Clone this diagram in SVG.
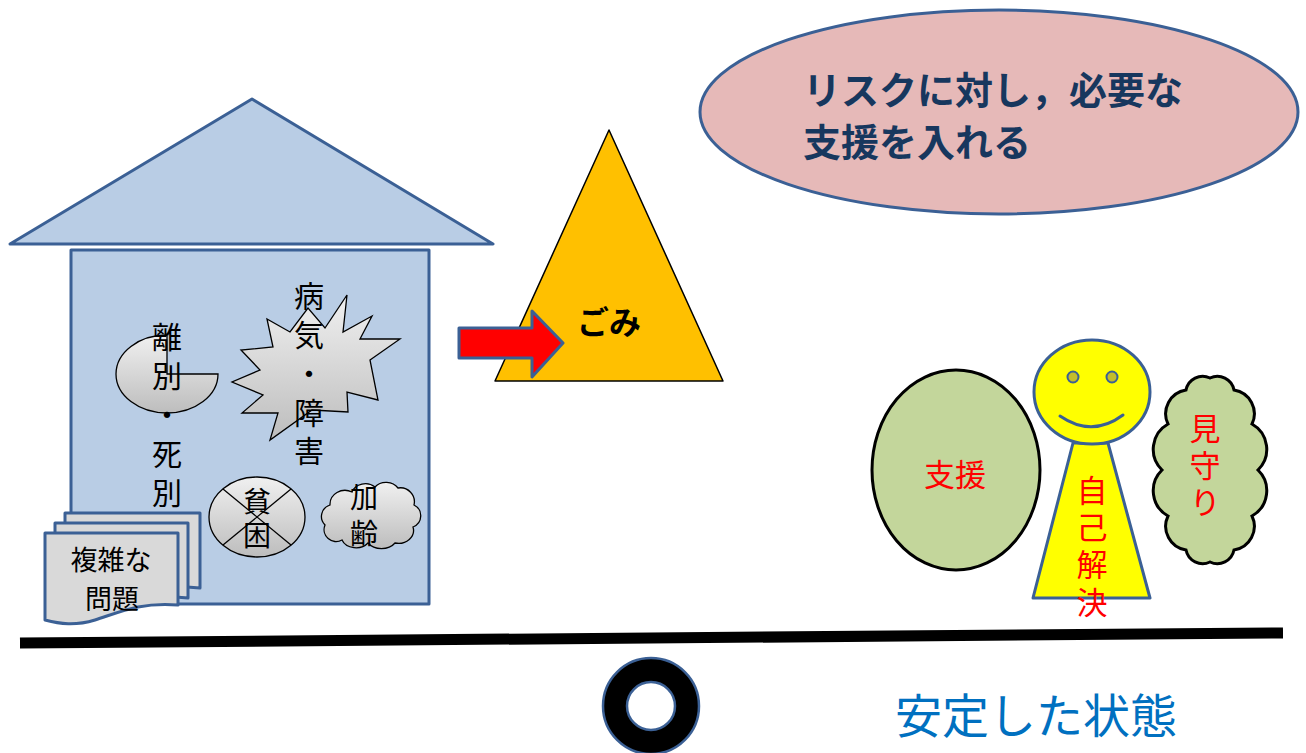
<svg xmlns="http://www.w3.org/2000/svg" width="1306" height="753" viewBox="0 0 1306 753">
  <defs>
    <linearGradient id="greyFill" x1="0" y1="0" x2="0" y2="1">
      <stop offset="0" stop-color="#f0f0f0"/>
      <stop offset="1" stop-color="#bdbdbd"/>
    </linearGradient>
    <style>
      .t { font-family: "Noto Sans CJK JP", "Noto Sans CJK SC", sans-serif; text-anchor: middle; dominant-baseline: central; }
      .v { font-family: "Noto Sans CJK JP", "Noto Sans CJK SC", sans-serif; writing-mode: vertical-rl; text-anchor: start; }
      .blk { fill: #000; font-size: 30px; }
      .sm { font-size: 28px; }
      .doc { font-size: 27px; }
      .red { fill: #ff0000; font-size: 31px; }
      .blueEdge { stroke: #3b6095; stroke-width: 3; stroke-linejoin: round; }
      .houseFill { fill: #b9cde5; }
      .grey { fill: url(#greyFill); stroke: #000; stroke-width: 1.3; }
      .green { fill: #c3d69b; stroke: #000; stroke-width: 3; }
      .yellow { fill: #ffff00; }
    </style>
  </defs>

  <!-- ground line -->
  <g id="ground">
    <line x1="20" y1="643" x2="1283" y2="633" stroke="#000" stroke-width="11"/>
  </g>

  <!-- house -->
  <g id="house">
    <polygon class="houseFill blueEdge" points="10,244 252,99 493,244"/>
    <rect class="houseFill blueEdge" x="71" y="250" width="358" height="354"/>
  </g>

  <!-- separation / bereavement (pie) -->
  <g id="node-rikoshibetsu">
    <path class="grey" d="M167,374 L218,374 A51,39 0 1,1 167,335 Z"/>
    <text class="v blk" x="167" y="322" letter-spacing="9">離別・死別</text>
  </g>

  <!-- illness / disability (explosion) -->
  <g id="node-byoki">
    <polygon class="grey" points="347,295 343,332 372,316 360,339 400,339 370,360 378,400 347,392 348,412 312,410 270,440 278,413 242,413 263,395 232,382 260,370 241,350 273,347 267,319 290,332 308,308 325,328"/>
    <text class="v blk" x="309" y="281" letter-spacing="8.75">病気・障害</text>
  </g>

  <!-- poverty (summing junction) -->
  <g id="node-hinkon">
    <ellipse class="grey" cx="257" cy="517" rx="48" ry="40"/>
    <line x1="223" y1="489" x2="291" y2="545" stroke="#000" stroke-width="1.3"/>
    <line x1="291" y1="489" x2="223" y2="545" stroke="#000" stroke-width="1.3"/>
    <text class="v blk sm" x="257" y="487" letter-spacing="6">貧困</text>
  </g>

  <!-- ageing (cloud) -->
  <g id="node-karei">
    <path class="grey" d="M325,525 A12,12 0 0 1 330,505 A15,14 0 0 1 352,492 A14,12 0 0 1 375,487 A14,12 0 0 1 398,488 A14,14 0 0 1 414,505 A12,12 0 0 1 413,527 A15,13 0 0 1 395,543 A16,12 0 0 1 368,543 A15,12 0 0 1 342,540 A12,12 0 0 1 325,525 Z"/>
    <text class="v blk sm" x="364" y="483" letter-spacing="8">加齢</text>
  </g>

  <!-- complex problems (stacked documents) -->
  <g id="node-fukuzatsu">
    <path class="blueEdge" fill="#d9d9d9" d="M65,513 H200 V588 Q160,584 130,592 L65,600 Z"/>
    <path class="blueEdge" fill="#d9d9d9" d="M55,523 H188 V598 Q150,594 120,602 L55,610 Z"/>
    <path class="blueEdge" fill="#d9d9d9" d="M45,533 H178 V605 C140,602 120,612 95,620 C75,626 60,624 45,620 Z"/>
    <text class="t blk doc"><tspan x="111" y="558">複雑な</tspan><tspan x="112" y="597">問題</tspan></text>
  </g>

  <!-- garbage (triangle) -->
  <g id="node-gomi">
    <polygon points="609,130 723,381 495,381" fill="#ffc000" stroke="#000" stroke-width="1.5" stroke-linejoin="round"/>
    <text class="t" x="609" y="320" font-size="32" font-weight="bold" fill="#000">ごみ</text>
  </g>

  <!-- block arrow from the house to the garbage -->
  <g id="connectors">
    <polygon class="blueEdge" fill="#ff0000" points="459,328 532,328 532,311 563,343 532,377 532,358 459,358"/>
  </g>

  <!-- callout ellipse -->
  <g id="node-risk">
    <ellipse cx="999" cy="112" rx="299" ry="102" fill="#e6b9b8" stroke="#3b6095" stroke-width="3"/>
    <text x="803" y="104" font-family="Noto Sans CJK JP, sans-serif" font-size="38" font-weight="bold" fill="#17375e">リスクに対し，必要な</text>
    <text x="803" y="156" font-family="Noto Sans CJK JP, sans-serif" font-size="38" font-weight="bold" fill="#17375e">支援を入れる</text>
  </g>

  <!-- support -->
  <g id="node-shien">
    <ellipse class="green" cx="956" cy="470" rx="84" ry="100"/>
    <text class="t red" x="955" y="472">支援</text>
  </g>

  <!-- self-resolution figure -->
  <g id="node-jiko">
    <polygon class="yellow blueEdge" points="1073,443 1108,443 1150,598 1033,598"/>
    <ellipse class="yellow blueEdge" cx="1092" cy="392" rx="58" ry="52"/>
    <circle cx="1073" cy="377" r="5.5" fill="#c4bd2a" stroke="#3b6095" stroke-width="2"/>
    <circle cx="1112" cy="377" r="5.5" fill="#c4bd2a" stroke="#3b6095" stroke-width="2"/>
    <path d="M1060,416 Q1092,438 1123,415" fill="none" stroke="#3b6095" stroke-width="3" stroke-linecap="round"/>
    <text class="v red" x="1092" y="474.5" letter-spacing="6.3">自己解決</text>
  </g>

  <!-- watching over (cloud) -->
  <g id="node-mimamori">
    <path class="green" d="M1210,378 A17,17 0 0 1 1234,390 A24,24 0 0 1 1252,424 A29,29 0 0 1 1258,470 A29,29 0 0 1 1252,516 A24,24 0 0 1 1234,550 A17,17 0 0 1 1210,562 A17,17 0 0 1 1186,550 A24,24 0 0 1 1168,516 A29,29 0 0 1 1162,470 A29,29 0 0 1 1168,424 A24,24 0 0 1 1186,390 A17,17 0 0 1 1210,378 Z"/>
    <text class="v red" x="1205" y="412.5" letter-spacing="6">見守り</text>
  </g>

  <!-- stable-state mark -->
  <g id="node-stable">
    <path d="M603,706 A48,48 0 1,0 699,706 A48,48 0 1,0 603,706 Z M627,706 A24,24 0 1,1 675,706 A24,24 0 1,1 627,706 Z" fill="#000" fill-rule="evenodd" stroke="#3b6095" stroke-width="2.5"/>
    <text x="895" y="733" font-family="Noto Sans CJK JP, sans-serif" font-size="47" fill="#0070c0">安定した状態</text>
  </g>
</svg>
